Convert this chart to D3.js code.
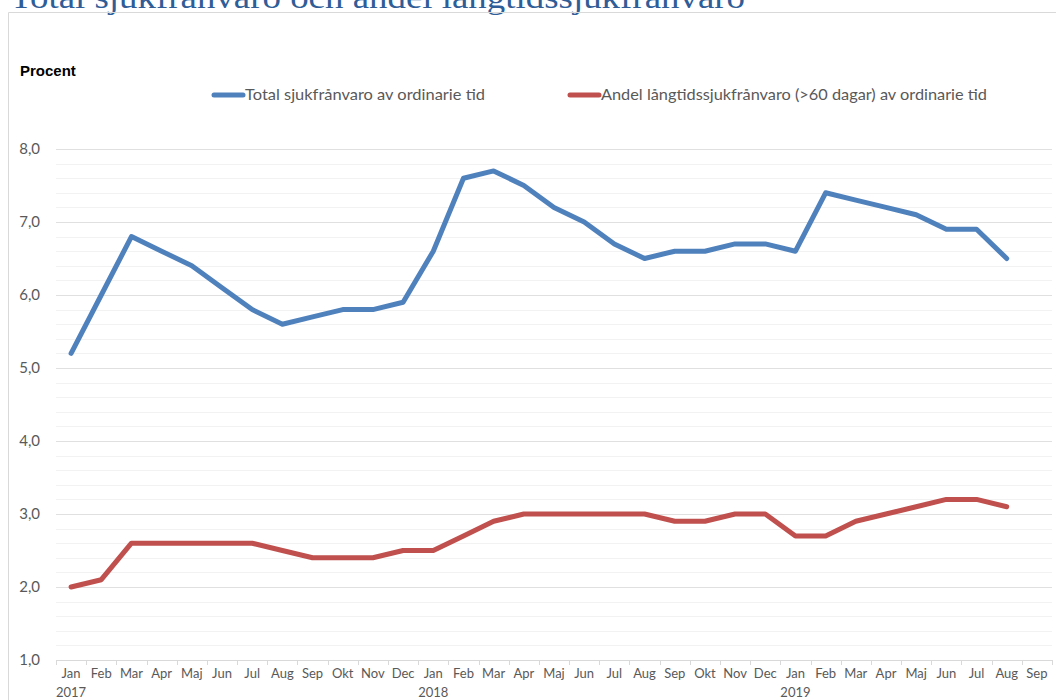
<!DOCTYPE html>
<html><head><meta charset="utf-8">
<script src="https://cdn.jsdelivr.net/npm/d3@7"></script>
<style>
html,body{margin:0;padding:0;background:#fff;}
svg{display:block;}
</style></head>
<body>
<svg id="chart" width="1056" height="700"></svg>
<script>
const months = ["Jan","Feb","Mar","Apr","Maj","Jun","Jul","Aug","Sep","Okt","Nov","Dec",
  "Jan","Feb","Mar","Apr","Maj","Jun","Jul","Aug","Sep","Okt","Nov","Dec",
  "Jan","Feb","Mar","Apr","Maj","Jun","Jul","Aug","Sep"];
const yearLabels = [{i:0,label:"2017"},{i:12,label:"2018"},{i:24,label:"2019"}];
const totalSick = [5.2,6.0,6.8,6.6,6.4,6.1,5.8,5.6,5.7,5.8,5.8,5.9,
  6.6,7.6,7.7,7.5,7.2,7.0,6.7,6.5,6.6,6.6,6.7,6.7,
  6.6,7.4,7.3,7.2,7.1,6.9,6.9,6.5,null];
const longTermShare = [2.0,2.1,2.6,2.6,2.6,2.6,2.6,2.5,2.4,2.4,2.4,2.5,
  2.5,2.7,2.9,3.0,3.0,3.0,3.0,3.0,2.9,2.9,3.0,3.0,
  2.7,2.7,2.9,3.0,3.1,3.2,3.2,3.1,null];
const yTicks = [1,2,3,4,5,6,7,8];
const seriesNames = ["Total sjukfrånvaro av ordinarie tid","Andel långtidssjukfrånvaro (>60 dagar) av ordinarie tid"];
const title = "Total sjukfrånvaro och andel långtidssjukfrånvaro";

(function(){
const svg = d3.select("#chart");
const font = "Lato, 'Open Sans', sans-serif";
const pL = 56, pR = 1052, pT = 149, pB = 660;

// title (partially cut off at top, as in the source)
svg.append("text").attr("x",10).attr("y",8)
  .attr("font-family","'Liberation Serif', 'DejaVu Serif', serif")
  .attr("font-size",31).attr("fill","#2f5d97")
  .attr("textLength",735).attr("lengthAdjust","spacingAndGlyphs")
  .text(title);

// chart border
svg.append("path").attr("d","M8.5,700 L8.5,12.5 L1056,12.5")
  .attr("fill","none").attr("stroke","#d9d9d9").attr("stroke-width",1);

const x = d3.scaleBand().domain(d3.range(months.length)).range([pL,pR]).padding(0);
const y = d3.scaleLinear().domain([1,8]).range([pB,pT]);

// minor gridlines
const minor = d3.range(1,8.0001,0.2).filter(v => Math.abs(v-Math.round(v))>1e-6);
svg.append("g").selectAll("line").data(minor).join("line")
  .attr("x1",pL).attr("x2",pR)
  .attr("y1",d=>Math.round(y(d))+0.5).attr("y2",d=>Math.round(y(d))+0.5)
  .attr("stroke","#f2f2f2").attr("stroke-width",1);
// major gridlines
svg.append("g").selectAll("line").data(yTicks.slice(1)).join("line")
  .attr("x1",pL).attr("x2",pR)
  .attr("y1",d=>Math.round(y(d))+0.5).attr("y2",d=>Math.round(y(d))+0.5)
  .attr("stroke","#e0e0e0").attr("stroke-width",1);

// y axis labels
const yAxis = d3.axisLeft(y).tickValues(yTicks).tickSize(0).tickPadding(0)
  .tickFormat(d=>d3.format(".1f")(d).replace(".",","));
const ya = svg.append("g").attr("transform",`translate(${pL-16},0)`).call(yAxis);
ya.select(".domain").remove();
ya.selectAll("text").attr("font-family",font).attr("font-size",15).attr("fill","#595959");

// x axis
const xAxis = d3.axisBottom(x).tickSize(0).tickPadding(0).tickFormat(i=>months[i]);
const xa = svg.append("g").attr("transform",`translate(0,${pB})`).call(xAxis);
xa.select(".domain").attr("stroke","#d9d9d9");
xa.selectAll("text").attr("font-family",font).attr("font-size",13).attr("fill","#595959").attr("dy","1.35em");
// tick marks at category boundaries
svg.append("g").selectAll("line").data(d3.range(months.length+1)).join("line")
  .attr("x1",i=>Math.round(pL + i*x.step())+0.5).attr("x2",i=>Math.round(pL + i*x.step())+0.5)
  .attr("y1",pB).attr("y2",pB+5).attr("stroke","#d9d9d9");
// year labels
svg.append("g").selectAll("text").data(yearLabels).join("text")
  .attr("x",d=>x(d.i)+x.bandwidth()/2).attr("y",697)
  .attr("text-anchor","middle").attr("font-family",font).attr("font-size",13).attr("fill","#595959")
  .text(d=>d.label);

// lines
const line = d3.line().defined(d=>d.v!=null).x(d=>x(d.i)+x.bandwidth()/2).y(d=>y(d.v));
const colors = ["#4f81bd","#c0504d"];
[totalSick,longTermShare].forEach((s,k)=>{
  svg.append("path").datum(s.map((v,i)=>({i,v})))
    .attr("d",line).attr("fill","none").attr("stroke",colors[k])
    .attr("stroke-width",5).attr("stroke-linejoin","round").attr("stroke-linecap","round");
});

// Procent label
svg.append("text").attr("x",20).attr("y",76).attr("font-family","'Liberation Sans', Arial, sans-serif")
  .attr("font-weight","bold").attr("font-size",15).attr("fill","#000").text("Procent");

// legend
const legX = [214,570];
const legLen = [240,386];
seriesNames.forEach((n,k)=>{
  const g = svg.append("g").attr("transform",`translate(${legX[k]},95)`);
  g.append("line").attr("x1",0).attr("x2",29).attr("y1",0).attr("y2",0)
    .attr("stroke",colors[k]).attr("stroke-width",5).attr("stroke-linecap","round");
  g.append("text").attr("x",31).attr("y",5).attr("font-family",font).attr("font-size",15)
    .attr("fill","#595959").attr("textLength",legLen[k]).attr("lengthAdjust","spacingAndGlyphs").text(n);
});
})();
</script>
</body></html>
